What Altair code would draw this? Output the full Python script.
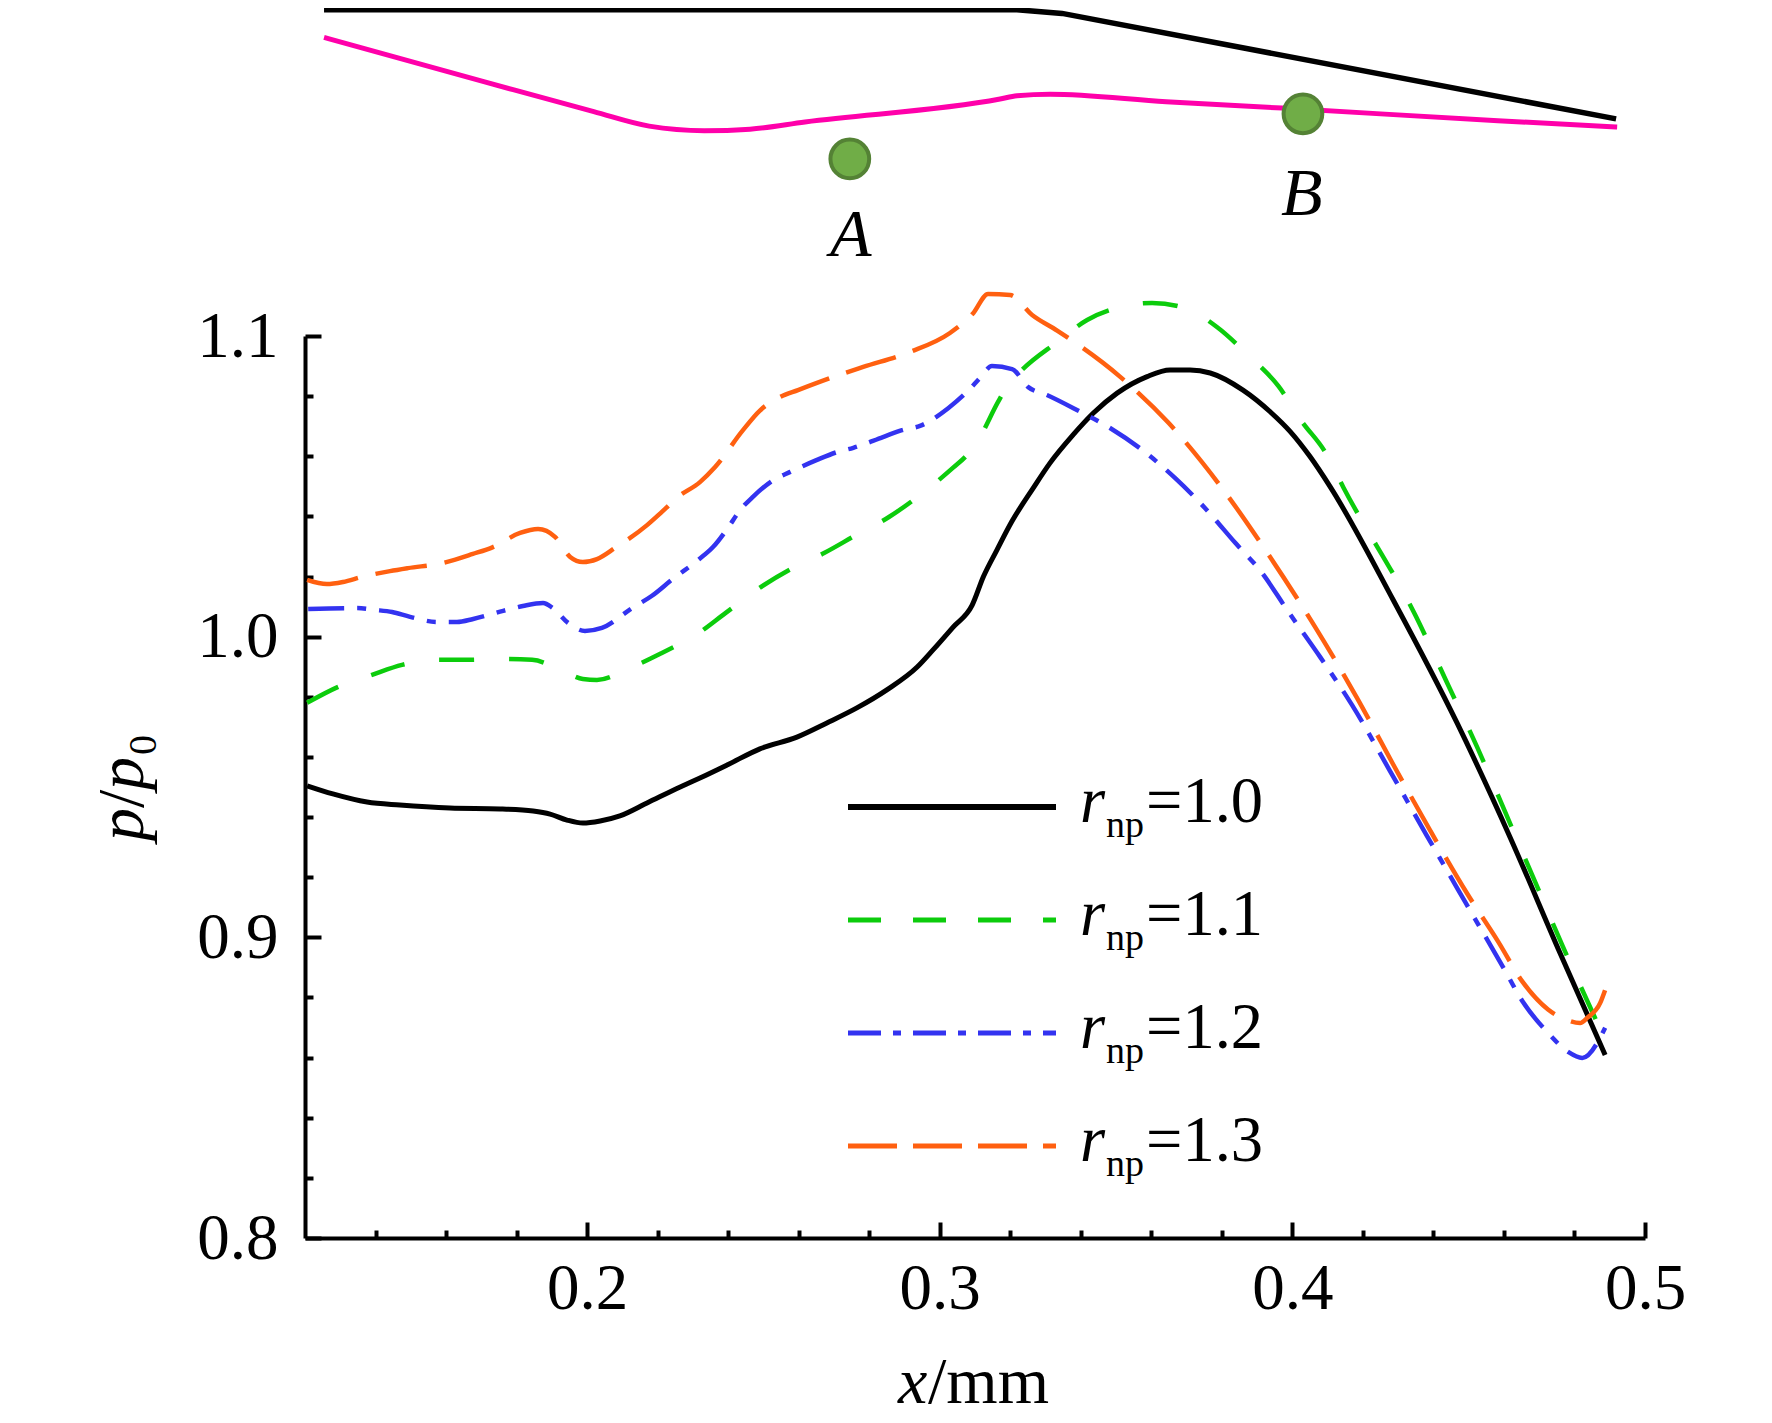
import altair as alt
import pandas as pd

FONT = "Liberation Serif"
W, H = 1340, 902

xs_black = [.1206,.1279,.1376,.1469,.1611,.1753,.1847,.1895,.1943,.1988,.2037,.2093,.217,.2264,.232,.24,.249,.2595,.268,.2765,.285,.2936,.2981,.3038,.3092,.3124,.3162,.3204,.3265,.3313,.3378,.3435,.3503,.3588,.3653,.371,.3767,.386,.3937,.3994,.405,.4107,.4286,.4467,.4617,.4759,.4887]
ys_black = [.9504,.9477,.945,.944,.943,.9427,.942,.941,.939,.938,.9387,.9404,.9447,.95,.953,.9575,.9627,.9666,.9713,.9763,.9823,.9899,.9956,1.0032,1.0105,1.02,1.0288,1.0382,1.0494,1.0578,1.0671,1.0743,1.081,1.0865,1.0887,1.0887,1.0877,1.082,1.0748,1.0682,1.0599,1.0499,1.0122,.9713,.9334,.8948,.8609]
xs_green = [.1206,.1294,.139,.1475,.1569,.1659,.1753,.1844,.1943,.1988,.2028,.2122,.2212,.2306,.2394,.249,.2578,.2672,.2763,.2856,.2944,.3038,.3077,.3114,.3165,.3194,.3233,.3333,.3418,.3511,.3602,.3696,.3786,.3874,.396,.4028,.4093,.4144,.4351,.4439,.4525,.4607,.4686,.4765,.4887]
ys_green = [.978,.9833,.9873,.9906,.9923,.9923,.9926,.9923,.9879,.9859,.9856,.9896,.9946,1.0004,1.008,1.0163,1.0225,1.0278,1.0338,1.0398,1.0471,1.0562,1.0604,1.0664,1.078,1.0837,1.0887,1.098,1.1053,1.1096,1.111,1.1093,1.103,1.0937,1.0834,1.0714,1.0614,1.0498,1.0066,.9846,.963,.9407,.9191,.8975,.8659]
xs_blue = [.1209,.1347,.1399,.1447,.1498,.1574,.1631,.1677,.1762,.1818,.1875,.1903,.1946,.1994,.2042,.213,.2184,.2241,.2315,.2357,.24,.2434,.2471,.2527,.2576,.2652,.2709,.2755,.2839,.2893,.2944,.3024,.3077,.3114,.3148,.3205,.3251,.3304,.3389,.3483,.3574,.3667,.3752,.3838,.3914,.3985,.4079,.4169,.4277,.4382,.449,.4597,.4654,.4725,.4782,.4822,.4887]
ys_blue = [1.0092,1.0095,1.0089,1.0082,1.0066,1.0049,1.0049,1.0059,1.0086,1.0102,1.0112,1.0095,1.0046,1.0019,1.0029,1.0097,1.0136,1.019,1.0255,1.0298,1.0363,1.0421,1.0466,1.052,1.0548,1.0588,1.0614,1.0628,1.0664,1.0687,1.0701,1.076,1.0814,1.086,1.09,1.089,1.083,1.0804,1.0754,1.0694,1.0621,1.0528,1.0428,1.0312,1.0212,1.0089,.9932,.9773,.9553,.9337,.9118,.8902,.8785,.8682,.8619,.8599,.8699]
xs_orange = [.1206,.1262,.1308,.1362,.1441,.1492,.1591,.1676,.1733,.181,.1861,.1909,.1952,.1988,.2028,.2079,.217,.2212,.2258,.232,.2363,.2442,.249,.2547,.2598,.2731,.2783,.2916,.3029,.3095,.3137,.32,.3262,.3333,.3511,.3648,.38,.3931,.4063,.4184,.4286,.4391,.4496,.4584,.4654,.4725,.4779,.4816,.4836,.4873,.4887]
ys_orange = [1.0189,1.0175,1.0182,1.0199,1.0218,1.0228,1.0245,1.0275,1.0298,1.0345,1.0358,1.0332,1.0265,1.0248,1.0258,1.0295,1.0371,1.0415,1.0465,1.0514,1.0564,1.0687,1.0752,1.0797,1.082,1.0877,1.0897,1.0947,1.101,1.1076,1.114,1.1136,1.107,1.1018,1.0865,1.0712,1.0495,1.0275,1.0035,.9795,.9575,.9355,.9145,.8985,.885,.876,.8725,.8715,.8732,.8782,.8825]
xs_wall = [.1254,.3219,.3347,.4918]
ys_wall = [1.2085,1.2085,1.2073,1.1722]
xs_blade = [.1254,.1707,.2019,.2176,.2332,.2462,.2618,.3171,.3219,.3313,.3642,.3971,.4583,.4921]
ys_blade = [1.1993,1.1846,1.1746,1.1698,1.1683,1.1688,1.1712,1.1788,1.1799,1.1804,1.1779,1.1758,1.1716,1.1695]
pt_x = [.2745,.4030]
pt_y = [1.1589,1.1739]
pt_names = ["A","B"]
lab_x = [.2748,.4027]
lab_y = [1.1266,1.1402]
x_major = [.2,.3,.4,.5]
x_minor = [.14,.16,.18,.22,.24,.26,.28,.32,.34,.36,.38,.42,.44,.46,.48]
y_major = [.8,.9,1.0,1.1]
y_minor = [.82,.84,.86,.88,.92,.94,.96,.98,1.02,1.04,1.06,1.08]
legend_vals = ["1.0","1.1","1.2","1.3"]
legend_cols = ["#000000","#0CCC0C","#3333F0","#FF6010"]
legend_dash = [[1,0],[33,32],[33,12,8,12],[49,16]]
curve_dash = [[1,0],[35,35],[36,13,9,13],[52,18]]

xscale = alt.Scale(domain=[.12,.5], nice=False, zero=False)
yscale = alt.Scale(domain=[.8,1.1], nice=False, zero=False)

def line(xs, ys, color, dash=None, width=4.5, xaxis=None, yaxis=None, interp="monotone"):
    d = pd.DataFrame({"x": xs, "y": ys})
    kw = dict(color=color, strokeWidth=width, interpolate=interp, clip=False)
    if dash: kw["strokeDash"] = dash
    return alt.Chart(d).mark_line(**kw).encode(
        x=alt.X("x:Q", scale=xscale, axis=xaxis, title=None),
        y=alt.Y("y:Q", scale=yscale, axis=yaxis, title=None))

lab = dict(labelFont=FONT, labelFontSize=65, labelColor="#000", title=None, grid=False)
ax_x_lab = alt.Axis(values=x_major, format=".1f", tickSize=0, ticks=False, labelPadding=19, domain=True,
                    domainWidth=4, domainColor="#000", orient="bottom", labelBaseline="top", labelFlush=False, **lab)
ax_y_lab = alt.Axis(values=y_major, format=".1f", tickSize=0, ticks=False, labelPadding=27, domain=True,
                    domainWidth=4, domainColor="#000", orient="left", labelFlush=False, **lab)
def tickx(vals, size):
    return alt.Axis(values=vals, labels=False, domain=False, tickSize=size, tickWidth=4, tickColor="#000",
                    orient="top", offset=-H, title=None, grid=False)
def ticky(vals, size):
    return alt.Axis(values=vals, labels=False, domain=False, tickSize=size, tickWidth=4, tickColor="#000",
                    orient="right", offset=-W, title=None, grid=False)

layers = [
    line(xs_black, ys_black, "#000000", width=5, xaxis=ax_x_lab, yaxis=ax_y_lab),
    line(xs_green, ys_green, legend_cols[1], curve_dash[1], xaxis=tickx(x_major, 16), yaxis=ticky(y_major, 16)),
    line(xs_blue, ys_blue, legend_cols[2], curve_dash[2], xaxis=tickx(x_minor, 8), yaxis=ticky(y_minor, 8)),
    line(xs_orange, ys_orange, legend_cols[3], curve_dash[3]),
    line(xs_wall, ys_wall, "#000000", width=5.5, interp="linear"),
    line(xs_blade, ys_blade, "#FF00AA", width=5),
]

pts = pd.DataFrame({"x": pt_x, "y": pt_y, "n": pt_names, "lx": lab_x, "ly": lab_y})
layers.append(alt.Chart(pts).mark_point(filled=True, shape="circle", size=1500, color="#70AD47",
                                        stroke="#548235", strokeWidth=4, opacity=1, clip=False).encode(
    x=alt.X("x:Q", scale=xscale, axis=None), y=alt.Y("y:Q", scale=yscale, axis=None)))
layers.append(alt.Chart(pts).mark_text(font=FONT, fontStyle="italic", fontSize=68, color="#000", baseline="alphabetic",
                                       clip=False).encode(
    x=alt.X("lx:Q", scale=xscale, axis=None), y=alt.Y("ly:Q", scale=yscale, axis=None), text="n:N"))

def txt(s, x, y, size=64.5, style="normal", angle=0):
    d = pd.DataFrame({"t": [s]})
    return alt.Chart(d).mark_text(font=FONT, fontSize=size, fontStyle=style, align="left", baseline="alphabetic",
                                  angle=angle, color="#000").encode(text="t:N", x=alt.value(x), y=alt.value(y))

leg_top = 471
step = 113
for i, (v, c, dsh) in enumerate(zip(legend_vals, legend_cols, legend_dash)):
    y0 = leg_top + i * step
    d = pd.DataFrame({"a": [v]})
    layers.append(alt.Chart(d).mark_rule(color=c, strokeWidth=6 if i == 0 else 5, strokeDash=dsh).encode(
        x=alt.value(543), x2=alt.value(751), y=alt.value(y0)))
    layers += [txt("r", 775, y0 + 15, style="italic"), txt("np", 801, y0 + 30, size=38), txt("=" + v, 841, y0 + 15)]

layers += [txt("x", 593, 1067, size=66, style="italic"), txt("/mm", 623, 1067, size=66)]
layers += [txt("p", -162, 505, size=66, style="italic", angle=270), txt("/", -162, 472, size=66, angle=270),
           txt("p", -162, 454, size=66, style="italic", angle=270), txt("0", -149, 419, size=40, angle=270)]

chart = alt.layer(*layers).resolve_axis(x="independent", y="independent").properties(
    width=W, height=H, autosize=alt.AutoSizeParams(type="none"),
    padding={"left": 297, "top": 328, "right": 119, "bottom": 182},
    background="white"
).configure_view(stroke=None)

chart.save("out.html", embed_options={"renderer": "svg", "actions": False})
